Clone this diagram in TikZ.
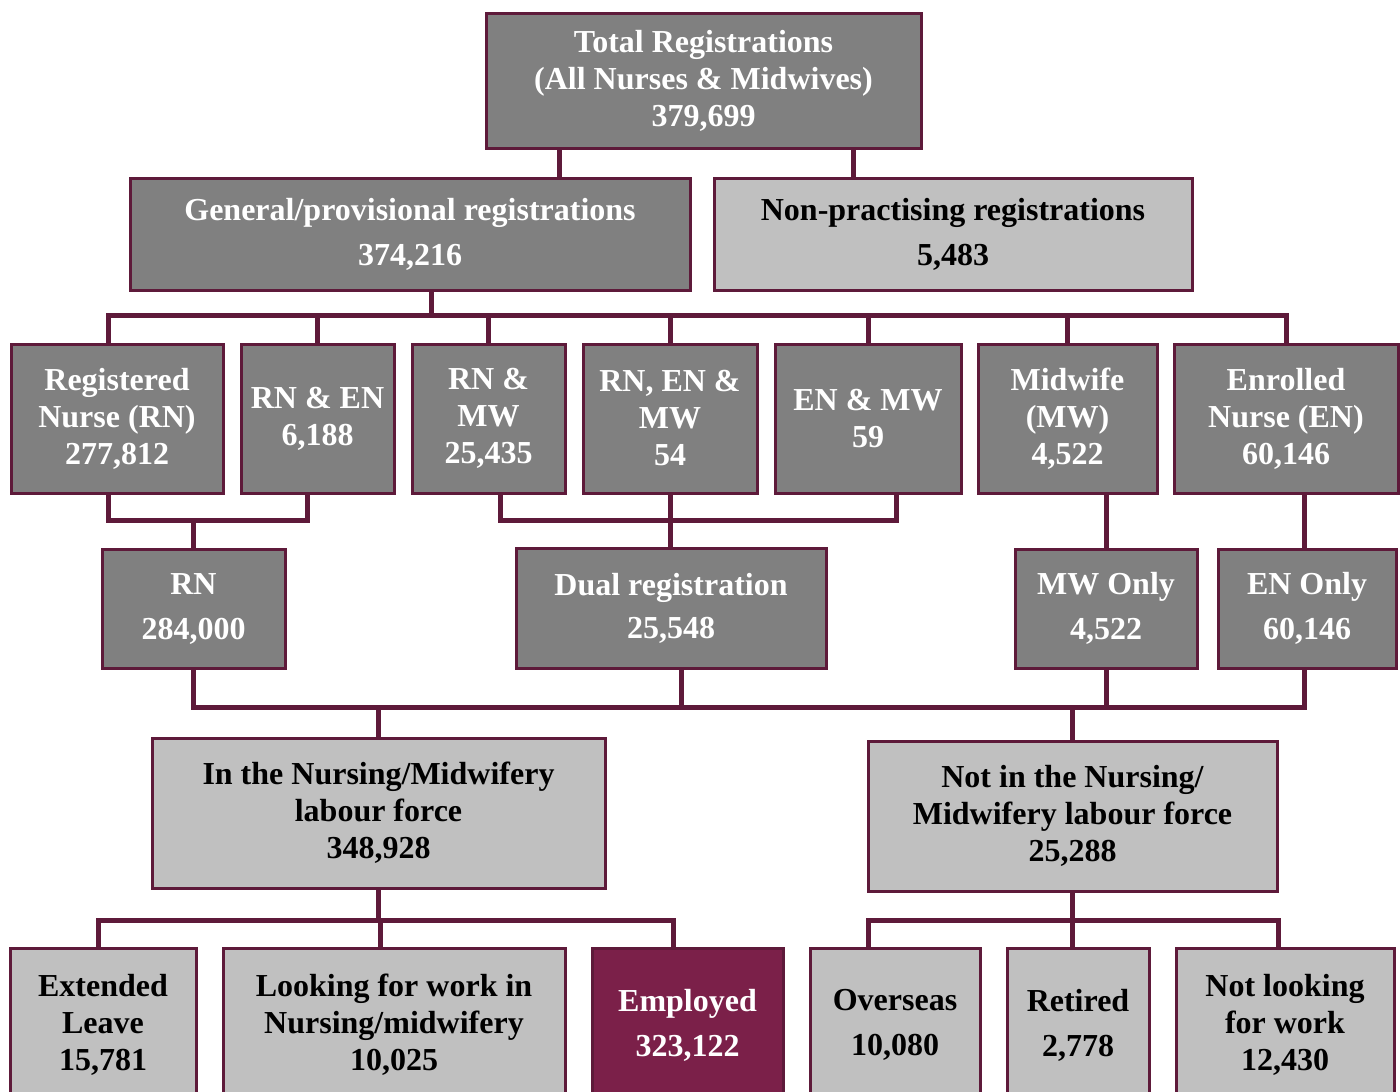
\documentclass[tikz,border=0pt]{standalone}
\usepackage{fontspec}
\setmainfont{Liberation Serif}
\usetikzlibrary{backgrounds}
\definecolor{bord}{HTML}{5E1A3A}
\definecolor{dgray}{HTML}{808080}
\definecolor{lgray}{HTML}{C0C0C0}
\definecolor{emp}{HTML}{7B2049}
\tikzset{
  box/.style={draw=bord, line width=3pt, rectangle, inner sep=0pt, outer sep=0pt, align=center,
    font=\bfseries\fontsize{32}{37}\selectfont},
  darkbox/.style={box, fill=dgray, text=white},
  lightbox/.style={box, fill=lgray, text=black},
  empbox/.style={box, fill=emp, text=white},
  conn/.style={draw=bord, line width=5pt, line join=miter}
}
\begin{document}
\begin{tikzpicture}[x=1pt,y=-1pt]
\clip (0,0) rectangle (1400,1092);
% row 1
\node[darkbox, minimum width=435, minimum height=135] (tot) at (703.5,80.5) {Total Registrations\\(All Nurses \& Midwives)\\379,699};
% row 2
\node[darkbox, minimum width=560, minimum height=112] (gen) at (410,234) {General/provisional registrations\\[8pt]374,216};
\node[lightbox, minimum width=478, minimum height=112] (non) at (953,234) {Non-practising registrations\\[8pt]5,483};
% row 3
\node[darkbox, minimum width=212, minimum height=149] (rn1) at (117,418.5) {Registered\\Nurse (RN)\\277,812};
\node[darkbox, minimum width=153, minimum height=149] (rnen) at (317.5,418.5) {RN \& EN\\6,188};
\node[darkbox, minimum width=153, minimum height=149] (rnmw) at (488.5,418.5) {RN \&\\MW\\25,435};
\node[darkbox, minimum width=174, minimum height=149] (rnenmw) at (670,418.5) {RN, EN \&\\MW\\54};
\node[darkbox, minimum width=186, minimum height=149] (enmw) at (868,418.5) {EN \& MW\\59};
\node[darkbox, minimum width=179, minimum height=149] (mw) at (1067.5,418.5) {Midwife\\(MW)\\4,522};
\node[darkbox, minimum width=224, minimum height=149] (en) at (1286,418.5) {Enrolled\\Nurse (EN)\\60,146};
% row 4
\node[darkbox, minimum width=183, minimum height=119] (rn) at (193.5,608.5) {RN\\[8pt]284,000};
\node[darkbox, minimum width=310, minimum height=120] (dual) at (671,608) {Dual registration\\[6pt]25,548};
\node[darkbox, minimum width=182, minimum height=119] (mwo) at (1106,608.5) {MW Only\\[8pt]4,522};
\node[darkbox, minimum width=178, minimum height=119] (eno) at (1307,608.5) {EN Only\\[8pt]60,146};
% row 5
\node[lightbox, minimum width=453, minimum height=150] (inlf) at (378.5,813) {In the Nursing/Midwifery\\labour force\\348,928};
\node[lightbox, minimum width=409, minimum height=150] (notlf) at (1072.5,816) {Not in the Nursing/\\Midwifery labour force\\25,288};
% row 6
\node[lightbox, minimum width=186, minimum height=154] (ext) at (103,1025) {Extended\\Leave\\15,781};
\node[lightbox, minimum width=342, minimum height=154] (look) at (394,1025) {Looking for work in\\Nursing/midwifery\\10,025};
\node[empbox, minimum width=191, minimum height=154] (emp) at (687.5,1025) {Employed\\[8pt]323,122};
\node[lightbox, minimum width=170, minimum height=154] (ovs) at (895,1025) {Overseas\\[8pt]10,080};
\node[lightbox, minimum width=142, minimum height=154] (ret) at (1078,1025) {Retired\\[8pt]2,778};
\node[lightbox, minimum width=218, minimum height=154] (notl) at (1285,1025) {Not looking\\for work\\12,430};
% connectors
\begin{scope}[on background layer]
\draw[conn] ([xshift=-144.5pt]tot.south) -- ([xshift=-144.5pt]tot.south |- gen.north);
\draw[conn] ([xshift=149.5pt]tot.south) -- ([xshift=149.5pt]tot.south |- non.north);
\draw[conn] ([xshift=21pt]gen.south) -- ++(0,25);
\draw[conn] ([xshift=-9pt]rn1.north) -- ++(0,-29) -| (en.north);
\foreach \n in {rnen,rnmw,rnenmw,enmw,mw} \draw[conn] (\n.north) -- ++(0,-29);
\draw[conn] ([xshift=-9pt]rn1.south) -- ++(0,27) -| ([xshift=-10.5pt]rnen.south);
\draw[conn] (rn.north) -- ++(0,-29);
\draw[conn] ([xshift=11.5pt]rnmw.south) -- ++(0,27) -| ([xshift=28pt]enmw.south);
\draw[conn] (rnenmw.south) -- (rnenmw.south |- dual.north);
\draw[conn] (mwo.north) -- (mwo.north |- mw.south);
\draw[conn] ([xshift=-3pt]eno.north) -- ([xshift=-3pt]eno.north |- en.south);
\draw[conn] (rn.south) -- ++(0,39) -| ([xshift=-3pt]eno.south);
\draw[conn] ([xshift=10pt]dual.south) -- ++(0,39);
\draw[conn] (mwo.south) -- ++(0,39);
\draw[conn] (inlf.north) -- ++(0,-31);
\draw[conn] (notlf.north) -- ++(0,-34);
\draw[conn] (inlf.south) -- ++(0,32);
\draw[conn] ([xshift=-5pt]ext.north) -- ++(0,-28) -| ([xshift=-14.5pt]emp.north);
\draw[conn] ([xshift=-14pt]look.north) -- ++(0,-28);
\draw[conn] (notlf.south) -- ++(0,29);
\draw[conn] ([xshift=-27pt]ovs.north) -- ++(0,-28) -| ([xshift=-7pt]notl.north);
\draw[conn] ([xshift=-6pt]ret.north) -- ++(0,-28);
\end{scope}
\end{tikzpicture}
\end{document}
